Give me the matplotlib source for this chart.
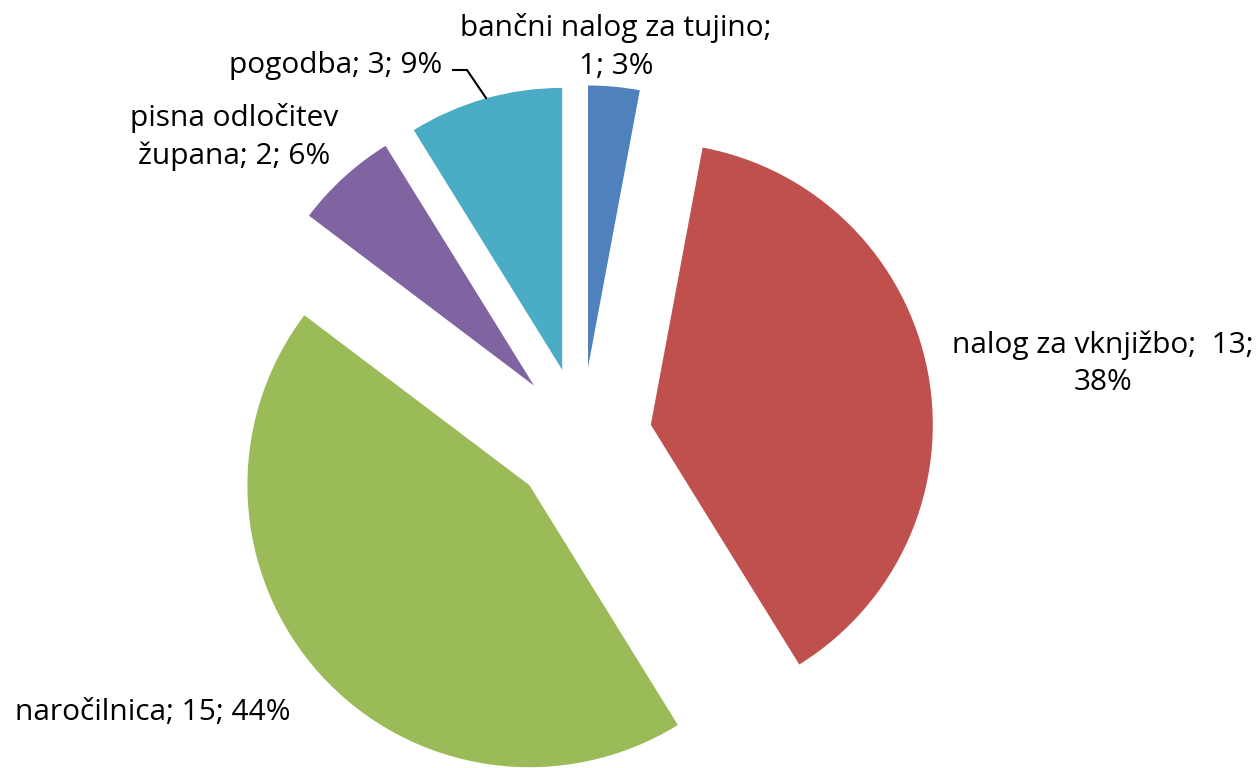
import matplotlib
matplotlib.use("Agg")
from matplotlib import pyplot as plt

# andmed
kategooriad = ["bančni nalog za tujino", "nalog za vknjižbo", "naročilnica",
               "pisna odločitev župana", "pogodba"]
vrednosted = [1, 13, 15, 2, 3]
varvid = ["#4F81BD", "#C0504D", "#9BBB59", "#8064A2", "#4BACC6"]

# sildid (tekst nagu Excelis, reavahetustega)
sildid = ["bančni nalog za tujino;\n1; 3%",
          "nalog za vknjižbo;  13;\n38%",
          "naročilnica; 15; 44%",
          "pisna odločitev\nžupana; 2; 6%",
          "pogodba; 3; 9%"]

W, H = 1259, 768
# siltide asukohad pikslites (x, y ülevalt)
silt_pos = [(616, 47), (1103, 364), (153, 712), (234, 137), (336, 65)]

plt.rcParams['font.family'] = ['Open Sans', 'DejaVu Sans']

fig = plt.figure(figsize=(W / 100, H / 100), dpi=100)
ax = fig.add_axes([0, 0, 1, 1])

keskpunkt = (581.5, H - 437.7)
raadius = 282
ax.pie(vrednosted, colors=varvid, startangle=90, counterclock=False,
       explode=[0.25 * raadius] * len(vrednosted), radius=raadius,
       center=keskpunkt, wedgeprops=dict(linewidth=0))

for tekst, (x, y) in zip(sildid, silt_pos):
    ax.text(x, H - y, tekst, ha="center", va="center", fontsize=21.5,
            color="black", linespacing=1.37)

# juhtjoon "pogodba" sildi juurde
ax.plot([453, 467, 486], [H - 70, H - 70, H - 98], color="black", lw=1.5)

ax.set_xlim(0, W)
ax.set_ylim(0, H)
ax.set_aspect("equal")
ax.axis("off")

fig.savefig("out.png", dpi=100)
